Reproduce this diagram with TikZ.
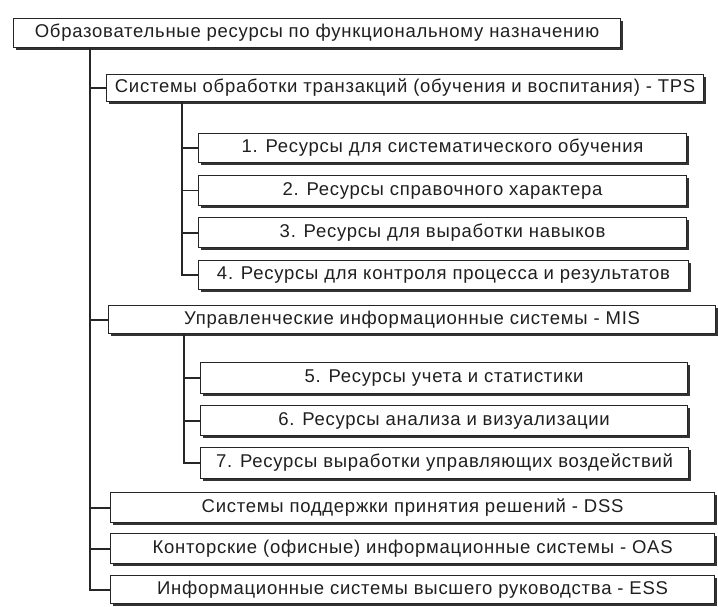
\documentclass[tikz,border=0pt]{standalone}
\usepackage{fontspec}
\setmainfont[LetterSpace=4]{Liberation Sans}
\usetikzlibrary{shadows}
\tikzset{
  box/.style={draw=black!85, line width=1.1pt, fill=white, inner sep=0pt,
    text=black!88, font=\fontsize{18.5}{20}\selectfont,
    drop shadow={shadow xshift=2pt, shadow yshift=-2.2pt, opacity=1, fill=black!80}},
  link/.style={draw=black!85, line width=1.9pt}
}
% place a box by its corners: \ebox{name}{x1}{y1}{x2}{y2}{text}
\newcommand{\ebox}[6]{%
  \node[box, minimum width=#4-#2, minimum height=#5-#3, anchor=north west]
    (#1) at (#2,#3) {#6};}
\begin{document}
\begin{tikzpicture}[x=1pt, y=-1pt]
\useasboundingbox (0,0) rectangle (718,607);
\fill[white] (0,0) rectangle (718,607);

\ebox{root}{13}{18}{620}{47}{Образовательные ресурсы по функциональному назначению}
\ebox{tps}{106}{74}{703}{101}{Системы обработки транзакций (обучения и воспитания) - TPS}
\ebox{r1}{198}{133}{686}{162}{1. Ресурсы для систематического обучения}
\ebox{r2}{198}{175}{686}{205}{2. Ресурсы справочного характера}
\ebox{r3}{198}{217}{686}{247}{3. Ресурсы для выработки навыков}
\ebox{r4}{198}{260}{688}{289}{4. Ресурсы для контроля процесса и результатов}
\ebox{mis}{108}{305}{715}{333}{Управленческие информационные системы - MIS}
\ebox{r5}{200}{362}{687}{393}{5. Ресурсы учета и статистики}
\ebox{r6}{200}{405}{687}{435}{6. Ресурсы анализа и визуализации}
\ebox{r7}{200}{447}{688}{478}{7. Ресурсы выработки управляющих воздействий}
\ebox{dss}{110}{492}{714}{522}{Системы поддержки принятия решений - DSS}
\ebox{oas}{110}{533}{714}{563}{Конторские (офисные) информационные системы - OAS}
\ebox{ess}{110}{575}{714}{603}{Информационные системы высшего руководства - ESS}

% trunk from the root box
\coordinate (trunk) at (90,48);
\draw[link] (trunk) |- (ess.west);
\foreach \n in {tps,mis,dss,oas} \draw[link] (trunk |- \n.west) -- (\n.west);

% branch under TPS
\coordinate (tb) at (182,101);
\draw[link] (tb) |- (r4.west);
\foreach \n in {r1,r2,r3} \draw[link] (tb |- \n.west) -- (\n.west);

% branch under MIS
\coordinate (mb) at (184,333);
\draw[link] (mb) |- (r7.west);
\foreach \n in {r5,r6} \draw[link] (mb |- \n.west) -- (\n.west);
\end{tikzpicture}
\end{document}
